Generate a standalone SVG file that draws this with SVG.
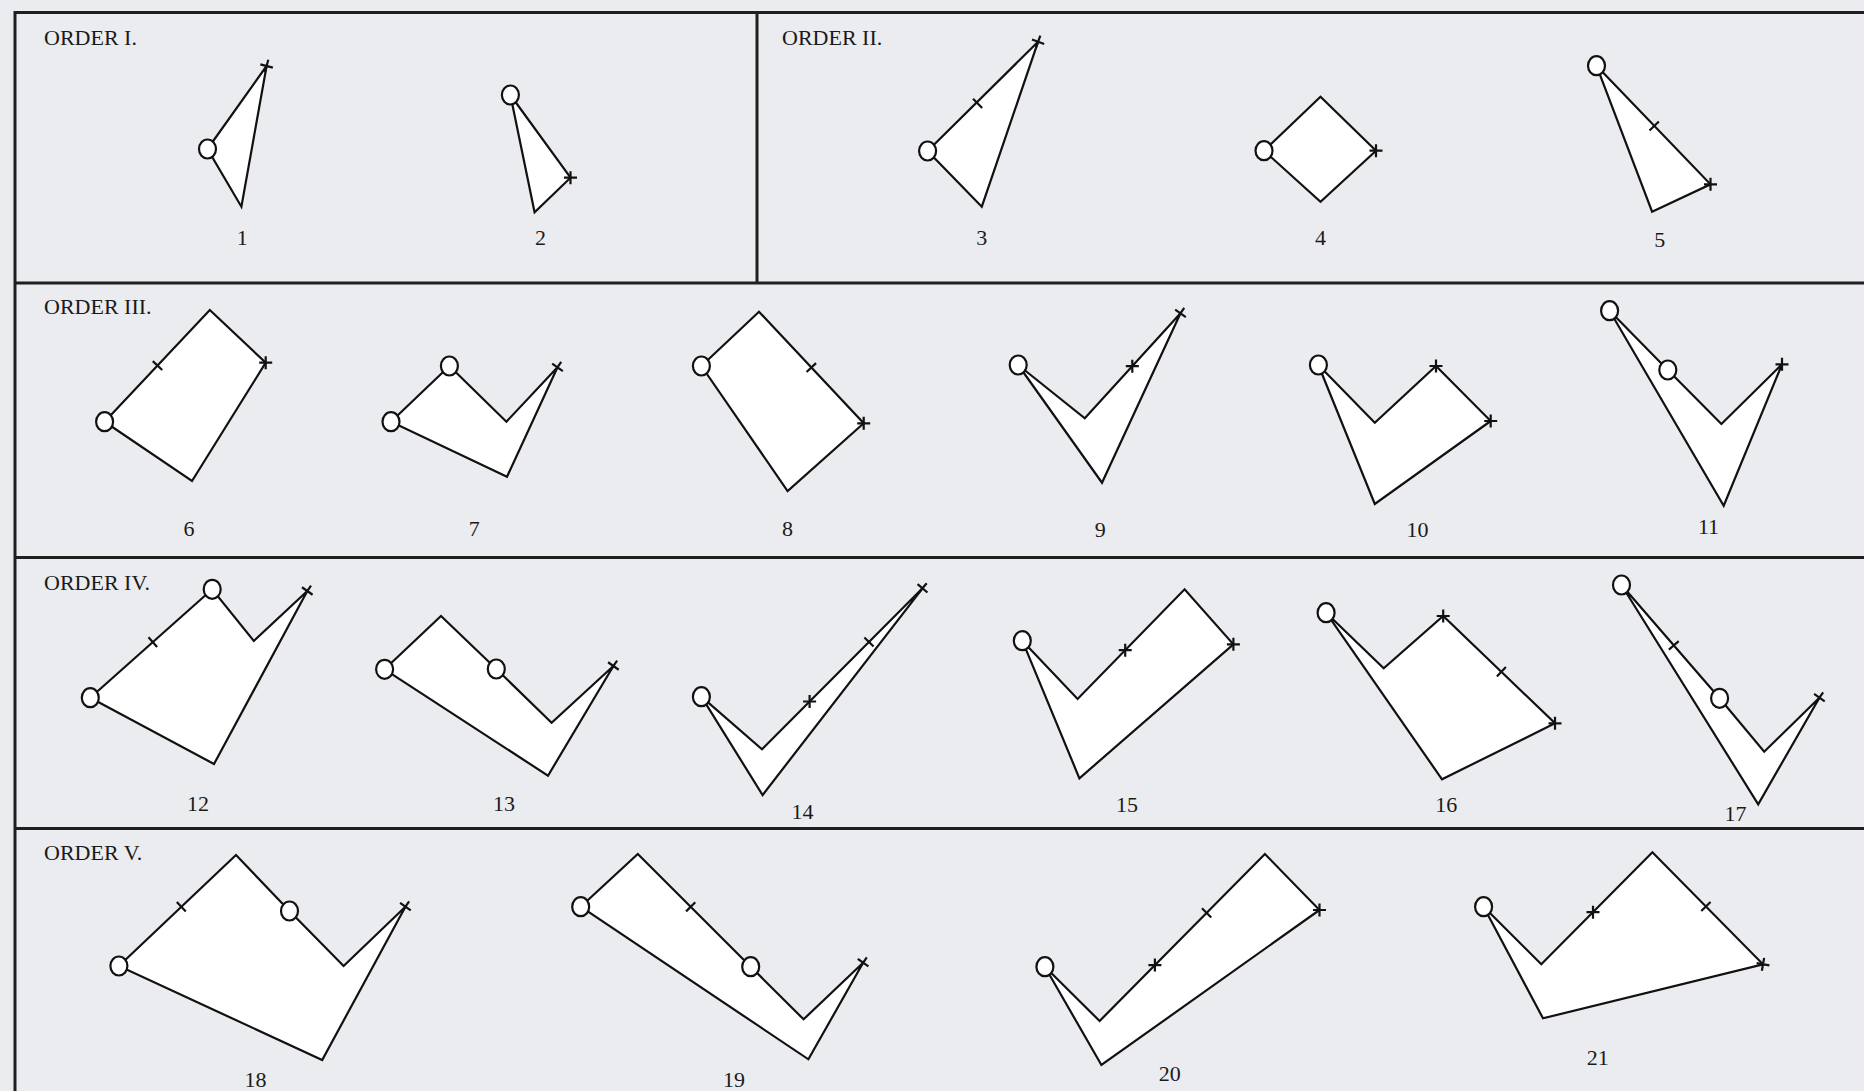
<svg xmlns="http://www.w3.org/2000/svg" xmlns:xlink="http://www.w3.org/1999/xlink" width="1864" height="1091" viewBox="0 0 1864 1091">
<defs>
<style>
.bg{fill:#eaecef}
.frame{fill:none;stroke:#1f1f1f;stroke-width:3}
.shape{fill:#ffffff;stroke:#111;stroke-width:2.2;stroke-linejoin:miter}
.mark{fill:none;stroke:#111;stroke-width:2.2}
.dot{fill:#ffffff;stroke:#111;stroke-width:2.2}
.hdr{font-family:"Liberation Serif","Times New Roman",serif;font-size:22px;fill:#1a1a1a}
.num{font-family:"Liberation Serif","Times New Roman",serif;font-size:22px;fill:#1a1a1a;text-anchor:middle}
</style>
<path id="cr" class="mark" d="M-6.5 0H6.5M0 -6.5V6.5"/>
<path id="tk" class="mark" d="M0 -6.5V6.5"/>
<ellipse id="ci" class="dot" cx="0" cy="0" rx="8.5" ry="9.5"/>
</defs>
<rect class="bg" x="0" y="0" width="1864" height="1091"/>
<g id="frame">
<path class="frame" d="M15 11V1091M13.5 12.5H1864M757 12.5V283M15 283H1864M15 557.5H1864M15 828.5H1864"/>
</g>
<g id="headers">
<text class="hdr" x="44" y="45">ORDER I.</text>
<text class="hdr" x="782" y="45">ORDER II.</text>
<text class="hdr" x="44" y="314">ORDER III.</text>
<text class="hdr" x="44" y="590">ORDER IV.</text>
<text class="hdr" x="44" y="860">ORDER V.</text>
</g>
<g id="connectors"></g>
<g id="fig-1">
<polygon class="shape" points="207.5,149 266.6,66 241.4,206.7"/>
<use xlink:href="#cr" transform="translate(266.6,66) rotate(15)"/>
<use xlink:href="#ci" transform="translate(207.5,149)"/>
<text class="num" x="242.3" y="244.5">1</text>
</g>
<g id="fig-2">
<polygon class="shape" points="510.4,95 570.5,177.7 534.6,212.3"/>
<use xlink:href="#cr" transform="translate(570.5,177.7)"/>
<use xlink:href="#ci" transform="translate(510.4,95)"/>
<text class="num" x="540.5" y="244.8">2</text>
</g>
<g id="fig-3">
<polygon class="shape" points="927.6,151 1038.1,41.7 981.8,206.7"/>
<use xlink:href="#tk" transform="translate(977.6,103.3) rotate(-44.7)"/>
<use xlink:href="#cr" transform="translate(1038.1,41.7) rotate(20)"/>
<use xlink:href="#ci" transform="translate(927.6,151)"/>
<text class="num" x="981.8" y="244.8">3</text>
</g>
<g id="fig-4">
<polygon class="shape" points="1264,150.7 1320.5,96.7 1376,150.7 1320.5,201.7"/>
<use xlink:href="#cr" transform="translate(1376,150.7)"/>
<use xlink:href="#ci" transform="translate(1264,150.7)"/>
<text class="num" x="1320.5" y="244.8">4</text>
</g>
<g id="fig-5">
<polygon class="shape" points="1596.5,65.7 1710.5,184.3 1652.1,211.7"/>
<use xlink:href="#tk" transform="translate(1654.2,126) rotate(46.1)"/>
<use xlink:href="#cr" transform="translate(1710.5,184.3)"/>
<use xlink:href="#ci" transform="translate(1596.5,65.7)"/>
<text class="num" x="1659.8" y="246.5">5</text>
</g>
<g id="fig-6">
<polygon class="shape" points="104.6,421.7 209.8,310 265.7,362.7 192,481"/>
<use xlink:href="#tk" transform="translate(157.5,365.6) rotate(-46.7)"/>
<use xlink:href="#cr" transform="translate(265.7,362.7)"/>
<use xlink:href="#ci" transform="translate(104.6,421.7)"/>
<text class="num" x="189" y="535.8">6</text>
</g>
<g id="fig-7">
<polygon class="shape" points="391,421.7 449.4,366 506.4,421.7 557.5,367.3 507,476.7"/>
<use xlink:href="#cr" transform="translate(557.5,367.3) rotate(35)"/>
<use xlink:href="#ci" transform="translate(391,421.7)"/>
<use xlink:href="#ci" transform="translate(449.4,366)"/>
<text class="num" x="474.3" y="535.8">7</text>
</g>
<g id="fig-8">
<polygon class="shape" points="701.4,366 759,311.7 863.7,423.3 787.6,491"/>
<use xlink:href="#tk" transform="translate(811.3,367.6) rotate(46.8)"/>
<use xlink:href="#cr" transform="translate(863.7,423.3)"/>
<use xlink:href="#ci" transform="translate(701.4,366)"/>
<text class="num" x="787.6" y="535.8">8</text>
</g>
<g id="fig-9">
<polygon class="shape" points="1018.2,365 1084.8,418.3 1180.5,313.3 1102,482.7"/>
<use xlink:href="#cr" transform="translate(1132.3,366.2)"/>
<use xlink:href="#cr" transform="translate(1180.5,313.3) rotate(35)"/>
<use xlink:href="#ci" transform="translate(1018.2,365)"/>
<text class="num" x="1100.2" y="536.8">9</text>
</g>
<g id="fig-10">
<polygon class="shape" points="1318.4,365 1374.8,422.7 1436,366 1490.7,421 1374.8,504"/>
<use xlink:href="#cr" transform="translate(1436,366)"/>
<use xlink:href="#cr" transform="translate(1490.7,421)"/>
<use xlink:href="#ci" transform="translate(1318.4,365)"/>
<text class="num" x="1417.6" y="536.8">10</text>
</g>
<g id="fig-11">
<polygon class="shape" points="1609.6,310.7 1667.8,370 1721.4,424 1782,364.3 1723.7,505.7"/>
<use xlink:href="#cr" transform="translate(1782,364.3)"/>
<use xlink:href="#ci" transform="translate(1609.6,310.7)"/>
<use xlink:href="#ci" transform="translate(1667.8,370)"/>
<text class="num" x="1708.5" y="534.2">11</text>
</g>
<g id="fig-12">
<polygon class="shape" points="90.3,697.7 212.2,589.3 253.8,641 307.3,591 214,764"/>
<use xlink:href="#tk" transform="translate(152.8,642.1) rotate(-41.6)"/>
<use xlink:href="#cr" transform="translate(307.3,591) rotate(35)"/>
<use xlink:href="#ci" transform="translate(90.3,697.7)"/>
<use xlink:href="#ci" transform="translate(212.2,589.3)"/>
<text class="num" x="198" y="810.8">12</text>
</g>
<g id="fig-13">
<polygon class="shape" points="384.6,669.3 441,616 496.3,669 551.6,722.7 613.4,666 548,775.7"/>
<use xlink:href="#cr" transform="translate(613.4,666) rotate(35)"/>
<use xlink:href="#ci" transform="translate(384.6,669.3)"/>
<use xlink:href="#ci" transform="translate(496.3,669)"/>
<text class="num" x="504" y="810.8">13</text>
</g>
<g id="fig-14">
<polygon class="shape" points="701.4,696.7 762,749.3 922.5,588.3 762.6,795"/>
<use xlink:href="#cr" transform="translate(809.6,701.5)"/>
<use xlink:href="#tk" transform="translate(869,642) rotate(-45.1)"/>
<use xlink:href="#cr" transform="translate(922.5,588.3) rotate(40)"/>
<use xlink:href="#ci" transform="translate(701.4,696.7)"/>
<text class="num" x="802.4" y="819.2">14</text>
</g>
<g id="fig-15">
<polygon class="shape" points="1022.3,640.7 1077.6,699 1184.6,589.3 1233.4,644.3 1079.4,778.3"/>
<use xlink:href="#cr" transform="translate(1125.2,650.2)"/>
<use xlink:href="#cr" transform="translate(1233.4,644.3)"/>
<use xlink:href="#ci" transform="translate(1022.3,640.7)"/>
<text class="num" x="1127" y="811.8">15</text>
</g>
<g id="fig-16">
<polygon class="shape" points="1326.1,612.7 1383.7,668.3 1443.2,616 1555,723.3 1442,779.3"/>
<use xlink:href="#cr" transform="translate(1443.2,616)"/>
<use xlink:href="#tk" transform="translate(1501.4,671.8) rotate(43.8)"/>
<use xlink:href="#cr" transform="translate(1555,723.3)"/>
<use xlink:href="#ci" transform="translate(1326.1,612.7)"/>
<text class="num" x="1446.2" y="811.8">16</text>
</g>
<g id="fig-17">
<polygon class="shape" points="1621.5,585 1719.6,698.3 1764.2,751.7 1819.4,697.7 1758.2,804.3"/>
<use xlink:href="#tk" transform="translate(1673.8,645.4) rotate(49.1)"/>
<use xlink:href="#cr" transform="translate(1819.4,697.7) rotate(35)"/>
<use xlink:href="#ci" transform="translate(1621.5,585)"/>
<use xlink:href="#ci" transform="translate(1719.6,698.3)"/>
<text class="num" x="1735.6" y="820.8">17</text>
</g>
<g id="fig-18">
<polygon class="shape" points="118.9,966 236,855 289.5,911 343.6,966 405.4,906.7 322.2,1060"/>
<use xlink:href="#tk" transform="translate(181.3,906.8) rotate(-43.5)"/>
<use xlink:href="#cr" transform="translate(405.4,906.7) rotate(35)"/>
<use xlink:href="#ci" transform="translate(118.9,966)"/>
<use xlink:href="#ci" transform="translate(289.5,911)"/>
<text class="num" x="255.6" y="1087">18</text>
</g>
<g id="fig-19">
<polygon class="shape" points="580.7,906.7 637.8,854 750.7,966.7 803.6,1019.3 863.1,962.7 808.4,1059.3"/>
<use xlink:href="#tk" transform="translate(690.7,906.8) rotate(45)"/>
<use xlink:href="#cr" transform="translate(863.1,962.7) rotate(35)"/>
<use xlink:href="#ci" transform="translate(580.7,906.7)"/>
<use xlink:href="#ci" transform="translate(750.7,966.7)"/>
<text class="num" x="734" y="1087">19</text>
</g>
<g id="fig-20">
<polygon class="shape" points="1044.9,966.7 1099.6,1021 1264.9,854 1319.5,910 1101.4,1065"/>
<use xlink:href="#cr" transform="translate(1154.9,965.1)"/>
<use xlink:href="#tk" transform="translate(1206.6,912.9) rotate(-45.3)"/>
<use xlink:href="#cr" transform="translate(1319.5,910)"/>
<use xlink:href="#ci" transform="translate(1044.9,966.7)"/>
<text class="num" x="1169.8" y="1080.8">20</text>
</g>
<g id="fig-21">
<polygon class="shape" points="1483.6,906.7 1541.3,964.3 1652.4,852.3 1763,964.3 1543,1018.3"/>
<use xlink:href="#cr" transform="translate(1593,912.2)"/>
<use xlink:href="#tk" transform="translate(1705.9,906.5) rotate(45.4)"/>
<use xlink:href="#cr" transform="translate(1763,964.3) rotate(10)"/>
<use xlink:href="#ci" transform="translate(1483.6,906.7)"/>
<text class="num" x="1597.7" y="1064.8">21</text>
</g>
</svg>
